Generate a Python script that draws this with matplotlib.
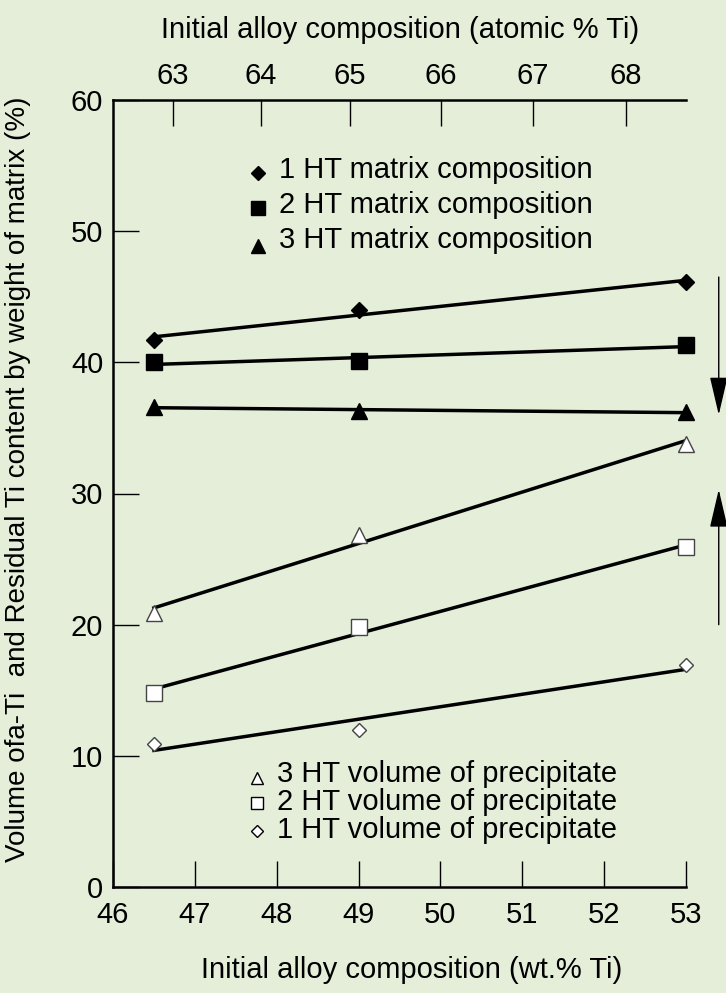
import numpy as np
import matplotlib
matplotlib.use("Agg")
from matplotlib import pyplot as plt
from matplotlib.patches import FancyArrowPatch

plt.rcParams['font.family'] = ['Liberation Sans', 'DejaVu Sans']

# initial alloy composition, wt.% Ti
wt_ti = [46.5, 49, 53]

# matrix composition (filled markers)
ht1_matrix = [41.7, 44.0, 46.1]
ht2_matrix = [40.0, 40.1, 41.3]
ht3_matrix = [36.6, 36.3, 36.2]

# volume of precipitate (open markers)
ht3_volume = [20.9, 26.8, 33.8]
ht2_volume = [14.8, 19.8, 25.9]
ht1_volume = [10.9, 12.0, 16.9]

x_ticks = [46, 47, 48, 49, 50, 51, 52, 53]
y_ticks = [0, 10, 20, 30, 40, 50, 60]
at_ticks = [63, 64, 65, 66, 67, 68]

M_TI = 47.867
M_NB = 92.906


def wt_to_at(w):
    w = np.asarray(w, dtype=float)
    a = w / M_TI
    b = (100 - w) / M_NB
    return 100 * a / (a + b)


def at_to_wt(x):
    x = np.asarray(x, dtype=float)
    a = x * M_TI
    b = (100 - x) * M_NB
    return 100 * a / (a + b)


bg = '#e4eed9'
fig = plt.figure(figsize=(7.26, 9.93), dpi=100, facecolor=bg)
ax = fig.add_axes([113 / 726, 1 - 887 / 993, (686 - 113) / 726, (887 - 100) / 993])
ax.set_facecolor(bg)

fs = 21

# fitted lines
for ys in [ht1_matrix, ht2_matrix, ht3_matrix, ht3_volume, ht2_volume, ht1_volume]:
    k, b = np.polyfit(wt_ti, ys, 1)
    xx = np.array([wt_ti[0], wt_ti[-1]])
    ax.plot(xx, k * xx + b, color='black', lw=2.5, zorder=2, clip_on=False)

ax.plot(wt_ti, ht1_matrix, 'D', ms=8, color='black', zorder=3, clip_on=False)
ax.plot(wt_ti, ht2_matrix, 's', ms=11, color='black', zorder=3, clip_on=False)
ax.plot(wt_ti, ht3_matrix, '^', ms=12, color='black', zorder=3, clip_on=False)
ax.plot(wt_ti, ht3_volume, '^', ms=12, mfc='white', mec='#444444', mew=1, zorder=3, clip_on=False)
ax.plot(wt_ti, ht2_volume, 's', ms=11, mfc='white', mec='#444444', mew=1, zorder=3, clip_on=False)
ax.plot(wt_ti, ht1_volume, 'D', ms=7, mfc='white', mec='#444444', mew=1, zorder=3, clip_on=False)

# in-plot keys
ax.plot([47.77], [54.4], 'D', ms=7, color='black')
ax.plot([47.77], [51.8], 's', ms=10, color='black')
ax.plot([47.77], [48.9], '^', ms=10.5, color='black')
ax.text(48.03, 54.7, '1 HT matrix composition', fontsize=fs, va='center')
ax.text(48.03, 52.0, '2 HT matrix composition', fontsize=fs, va='center')
ax.text(48.03, 49.3, '3 HT matrix composition', fontsize=fs, va='center')

ax.plot([47.76], [8.3], '^', ms=9, mfc='white', mec='black', mew=1)
ax.plot([47.76], [6.4], 's', ms=8.5, mfc='white', mec='black', mew=1)
ax.plot([47.76], [4.3], 'D', ms=6.5, mfc='white', mec='black', mew=1)
ax.text(48.0, 8.6, '3 HT volume of precipitate', fontsize=fs, va='center')
ax.text(48.0, 6.5, '2 HT volume of precipitate', fontsize=fs, va='center')
ax.text(48.0, 4.35, '1 HT volume of precipitate', fontsize=fs, va='center')

# arrows at right
for y0, y1 in [(46.5, 36.0), (20.0, 30.3)]:
    arr = FancyArrowPatch((53.4, y0), (53.4, y1),
                          arrowstyle='-|>,head_length=24,head_width=5.6',
                          mutation_scale=1, lw=1, color='black',
                          shrinkA=0, shrinkB=0, clip_on=False)
    ax.add_patch(arr)

ax.set_xlim(46, 53)
ax.set_ylim(0, 60)
ax.set_xticks(x_ticks)
ax.set_yticks(y_ticks)
ax.tick_params(direction='in', length=19, width=1, labelsize=fs)
ax.tick_params(axis='x', pad=10)
ax.tick_params(axis='y', pad=7)
ax.spines['right'].set_visible(False)
ax.spines['top'].set_visible(False)
ax.spines['left'].set_linewidth(1.8)
ax.spines['bottom'].set_linewidth(1.8)

top = ax.secondary_xaxis('top', functions=(wt_to_at, at_to_wt))
top.set_xticks(at_ticks)
top.tick_params(direction='in', length=19, width=1, labelsize=fs, pad=7)
top.spines['top'].set_linewidth(1.8)

fig.text(400 / 726, 1 - 30 / 993, 'Initial alloy composition (atomic % Ti)',
         fontsize=fs, ha='center', va='center')
fig.text(412 / 726, 1 - 970 / 993, 'Initial alloy composition (wt.% Ti)',
         fontsize=fs, ha='center', va='center')
fig.text(18 / 726, 1 - 479 / 993,
         'Volume ofa-Ti  and Residual Ti content by weight of matrix (%)',
         rotation=90, fontsize=20, va='center', ha='center')

fig.savefig('out.png', dpi=100, facecolor=bg)
